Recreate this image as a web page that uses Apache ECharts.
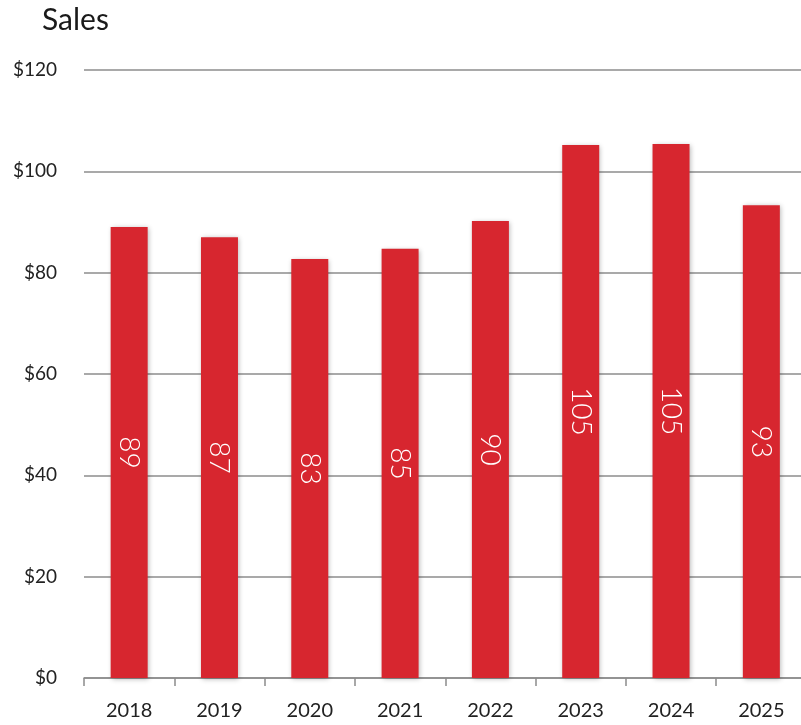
<!DOCTYPE html>
<html><head><meta charset="utf-8">
<script src="https://cdn.jsdelivr.net/npm/echarts@6/dist/echarts.min.js"></script>
<style>html,body{margin:0;padding:0;background:#fff;overflow:hidden}#c{width:808px;height:725px}</style>
</head><body><div id="c"></div>
<script>
const categories = ['2018','2019','2020','2021','2022','2023','2024','2025'];
const sales = [89.0, 87.0, 82.7, 84.7, 90.2, 105.2, 105.4, 93.3];
const yTicks = {min: 0, max: 120, interval: 20};
const FONT = 'Lato';
const chart = echarts.init(document.getElementById('c'), null, {renderer: 'canvas'});
chart.setOption({
  animation: false,
  title: {text: 'Sales', left: 37, top: 0, textStyle: {fontFamily: FONT, fontSize: 30, fontWeight: 'normal', color: '#1a1a1a'}},
  grid: {left: 84, right: 1.5, top: 70, bottom: 47},
  xAxis: {
    type: 'category', data: categories,
    axisLine: {lineStyle: {color: '#8c8c8c', width: 1.5}},
    axisTick: {show: true, length: 8, lineStyle: {color: '#8c8c8c', width: 1.5}},
    axisLabel: {fontFamily: FONT, fontSize: 20, fontWeight: 'normal', color: '#222', margin: 23}
  },
  yAxis: {
    type: 'value', min: yTicks.min, max: yTicks.max, interval: yTicks.interval,
    axisLine: {show: false}, axisTick: {show: false},
    axisLabel: {fontFamily: FONT, fontSize: 19, fontWeight: 'normal', color: '#222', margin: 27, formatter: v => '$' + v},
    splitLine: {lineStyle: {color: '#8c8c8c', width: 1.5}}
  },
  series: [{
    type: 'bar', data: sales, barWidth: 37,
    itemStyle: {color: '#d7262f', shadowBlur: 5, shadowColor: 'rgba(0,0,0,0.3)', shadowOffsetX: 1, shadowOffsetY: 1},
    label: {show: true, position: 'inside', rotate: -90, fontFamily: FONT, fontSize: 28, fontWeight: 300, color: '#fff',
      formatter: p => Math.round(p.value)}
  }]
});
</script></body></html>
